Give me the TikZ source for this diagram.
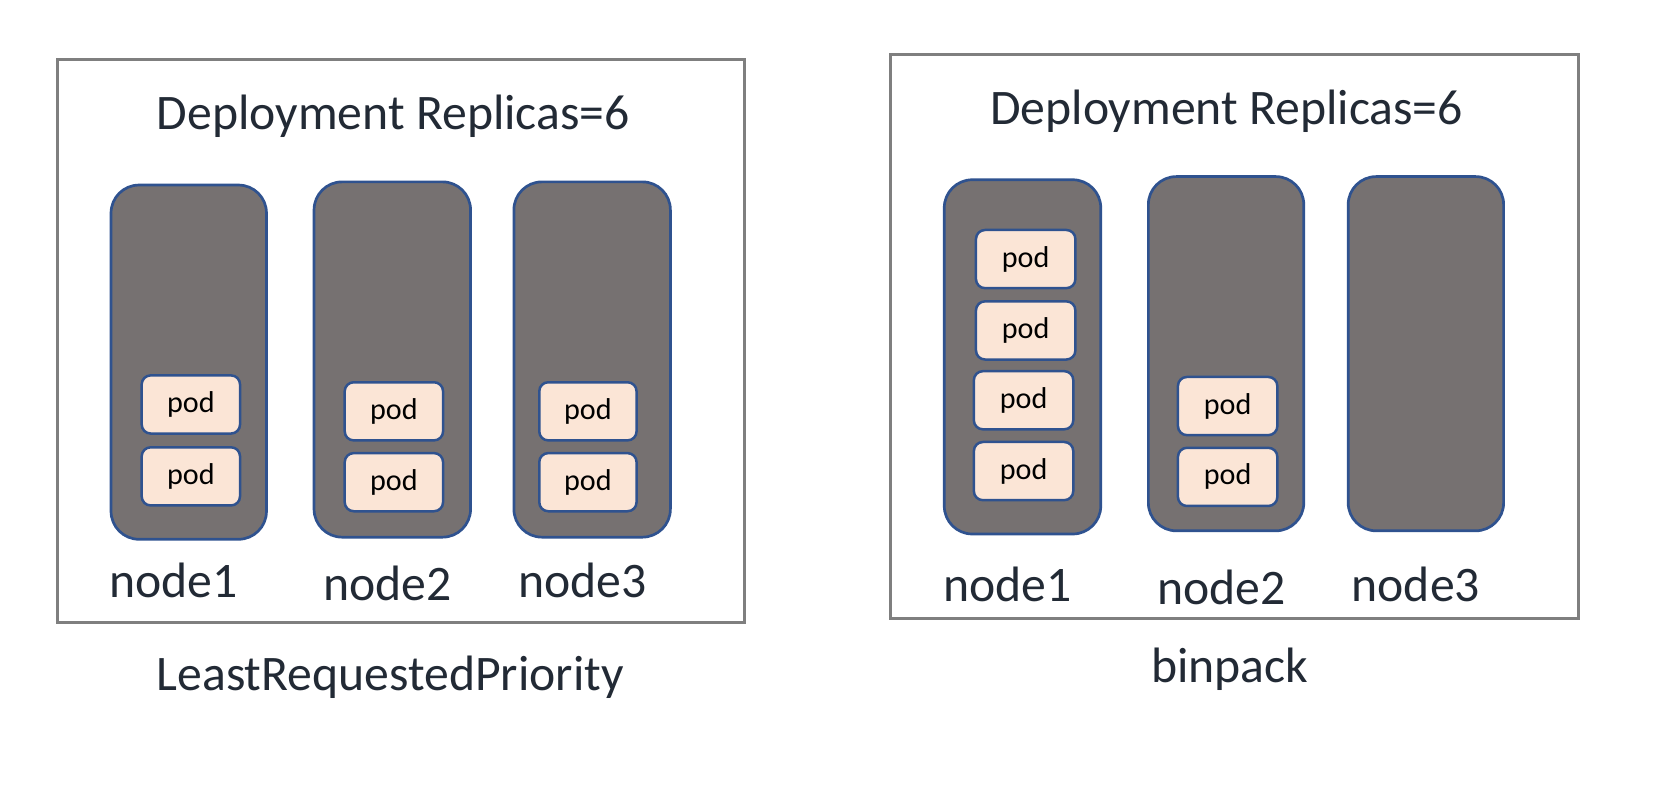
\documentclass[tikz,border=0pt]{standalone}
\usepackage{fontspec}
\setmainfont{Carlito}
\definecolor{outergray}{HTML}{7F7F7F}
\definecolor{nodegray}{HTML}{767171}
\definecolor{nodeblue}{HTML}{2F528F}
\definecolor{podfill}{HTML}{FBE5D6}
\definecolor{textdark}{HTML}{222A35}
\begin{document}
\begin{tikzpicture}[x=1pt,y=-1pt,scale=1.0574,every node/.append style={transform shape},
  outerbox/.style={draw=outergray, line width=3pt, inner sep=0pt},
  nodebox/.style={draw=nodeblue, fill=nodegray, line width=2.7pt, rounded corners=28pt, inner sep=0pt},
  podbox/.style={draw=nodeblue, fill=podfill, line width=2.5pt, rounded corners=9pt, inner sep=0pt,
    minimum width=93pt, minimum height=55pt, font=\fontsize{28.5}{30}\selectfont, text=black},
  titletext/.style={font=\fontsize{47}{52}\selectfont, text=textdark, anchor=base, inner sep=0pt},
  labeltext/.style={font=\fontsize{47}{52}\selectfont, text=textdark, anchor=base, inner sep=0pt}]
\useasboundingbox (0,0) rectangle (1568,752.8);
\fill[white] (0,0) rectangle (1568,752.8);
% ---------- left panel ----------
\node[outerbox, minimum width=650pt, minimum height=533pt] (Lout) at (379,322.5) {};
\node[titletext] (Ltitle) at (372,122) {Deployment Replicas=6};
\node[nodebox, minimum width=147pt, minimum height=335pt] (Ln1) at (178.5,342.5) {};
\node[nodebox, minimum width=148pt, minimum height=336pt] (Ln2) at (371,340) {};
\node[nodebox, minimum width=148pt, minimum height=336pt] (Ln3) at (560,340) {};
\node[podbox] (Lp11) at (180.5,382.5) {pod};
\node[podbox] (Lp12) at (180.5,450.5) {pod};
\node[podbox] (Lp21) at (372.5,389) {pod};
\node[podbox] (Lp22) at (372.5,456) {pod};
\node[podbox, minimum width=92pt] (Lp31) at (556,389) {pod};
\node[podbox, minimum width=92pt] (Lp32) at (556,456) {pod};
\node[labeltext] (Ll1) at (164,565) {node1};
\node[labeltext] (Ll2) at (366.5,567.5) {node2};
\node[labeltext] (Ll3) at (551,565) {node3};
\node[titletext] (Lcap) at (369,653) {LeastRequestedPriority};
% ---------- right panel ----------
\node[outerbox, minimum width=651pt, minimum height=533pt] (Rout) at (1167.5,318.5) {};
\node[titletext] (Rtitle) at (1160,118) {Deployment Replicas=6};
\node[nodebox, minimum width=148pt, minimum height=335pt] (Rn1) at (967,337.5) {};
\node[nodebox, minimum width=147pt, minimum height=335pt] (Rn2) at (1159.5,334.5) {};
\node[nodebox, minimum width=147pt, minimum height=335pt] (Rn3) at (1348.5,334.5) {};
\node[podbox, minimum width=94pt] (Rp11) at (970,245) {pod};
\node[podbox, minimum width=94pt] (Rp12) at (970,312.5) {pod};
\node[podbox, minimum width=94pt] (Rp13) at (968,378.5) {pod};
\node[podbox, minimum width=94pt] (Rp14) at (968,445.5) {pod};
\node[podbox, minimum width=94pt] (Rp21) at (1161,384) {pod};
\node[podbox, minimum width=94pt] (Rp22) at (1161,451) {pod};
\node[labeltext] (Rl1) at (953,569) {node1};
\node[labeltext] (Rl2) at (1155,572) {node2};
\node[labeltext] (Rl3) at (1339,569) {node3};
\node[titletext] (Rcap) at (1163,645) {binpack};
\end{tikzpicture}
\end{document}
